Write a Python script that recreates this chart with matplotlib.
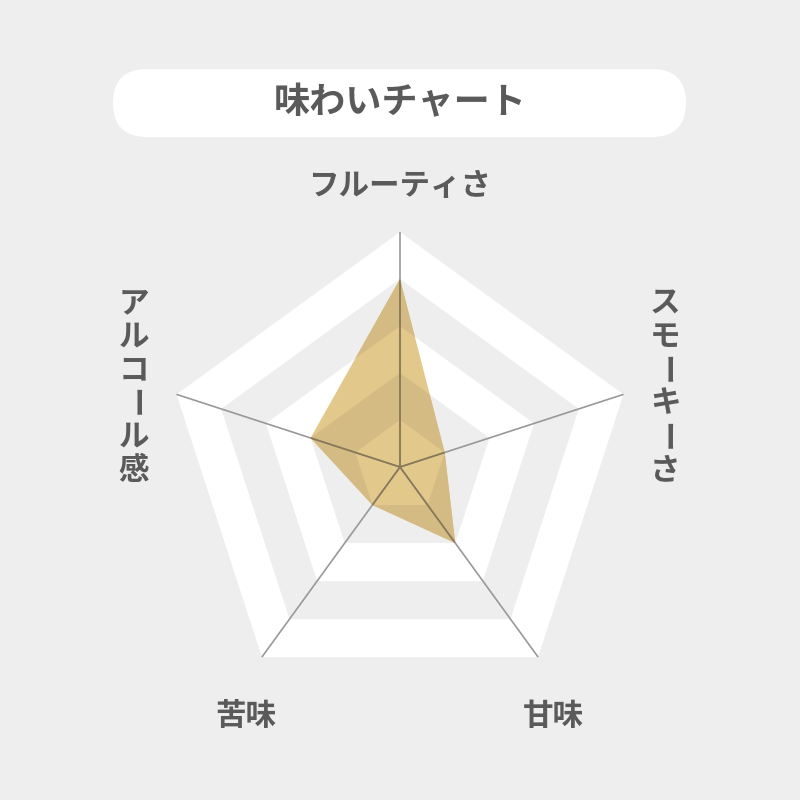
import numpy as np
import matplotlib
matplotlib.use("Agg")
import matplotlib.pyplot as plt
from matplotlib.patches import Polygon, PathPatch, FancyBboxPatch
from matplotlib.path import Path

plt.rcParams['font.family'] = ['Noto Sans CJK JP', 'DejaVu Sans']

# data
title = "味わいチャート"
categories = ["フルーティさ", "スモーキーさ", "甘味", "苦味", "アルコール感"]
values = [4, 1, 2, 1, 2]
max_level = 5

BG = "#eeeeee"
TEXT = "#5a5a5a"
AXIS = "#999999"
FILL_LIGHT = "#e3c88c"   # fill over white band
FILL_DARK = "#d4bb83"    # fill over gray band
AXIS_IN = "#8a7853"      # axis seen through the fill

cx, cy = 400, 467
unit = 47

n = len(categories)
angles = np.deg2rad(90 - 72 * np.arange(n))


def pt(r, a):
    return cx + r * unit * np.cos(a), cy - r * unit * np.sin(a)


def ring(level):
    return np.array([pt(level, a) for a in angles])


fig = plt.figure(figsize=(8, 8), dpi=100, facecolor=BG)
ax = fig.add_axes([0, 0, 1, 1])
ax.set_xlim(0, 800)
ax.set_ylim(800, 0)
ax.set_aspect('equal')
ax.axis('off')

# title pill
pill = FancyBboxPatch((113, 69), 573, 68, boxstyle="round,pad=0,rounding_size=34",
                      facecolor="white", edgecolor="none")
ax.add_patch(pill)
ax.text(400, 103, title, ha='center', va='center', fontsize=26, fontweight='bold', color=TEXT)

# background bands: white / gray alternating from outside
for lvl in range(max_level, 0, -1):
    col = "white" if (max_level - lvl) % 2 == 0 else BG
    ax.add_patch(Polygon(ring(lvl), closed=True, facecolor=col, edgecolor='none', zorder=1))

# data polygon
data_xy = np.array([pt(v, a) for v, a in zip(values, angles)])
poly = Polygon(data_xy, closed=True, facecolor=FILL_LIGHT, edgecolor='none', zorder=2)
ax.add_patch(poly)

# darker fill where it sits on the gray bands
for lvl in range(max_level - 1, 0, -2):
    outer = ring(lvl)
    inner = ring(lvl - 1)[::-1] if lvl > 1 else None
    verts = list(outer) + [outer[0]]
    codes = [Path.MOVETO] + [Path.LINETO] * (n - 1) + [Path.CLOSEPOLY]
    if inner is not None:
        verts += list(inner) + [inner[0]]
        codes += [Path.MOVETO] + [Path.LINETO] * (n - 1) + [Path.CLOSEPOLY]
    band = PathPatch(Path(verts, codes), facecolor='none', edgecolor='none')
    ax.add_patch(band)
    dark = Polygon(data_xy, closed=True, facecolor=FILL_DARK, edgecolor='none', zorder=3)
    ax.add_patch(dark)
    dark.set_clip_path(band)

# spokes
for a in angles:
    x1, y1 = pt(max_level, a)
    ax.plot([cx, x1], [cy, y1], color=AXIS, lw=1.2, zorder=4, solid_capstyle='butt')
    ln, = ax.plot([cx, x1], [cy, y1], color=AXIS_IN, lw=1.2, zorder=5, solid_capstyle='butt')
    ln.set_clip_path(poly)

# labels
ax.text(400, 186, categories[0], ha='center', va='center', fontsize=22, fontweight='bold', color=TEXT)
ax.text(553, 716, categories[2], ha='center', va='center', fontsize=22, fontweight='bold', color=TEXT)
ax.text(246, 716, categories[3], ha='center', va='center', fontsize=22, fontweight='bold', color=TEXT)


def vertical(label, x, y0, step=33.5):
    for i, ch in enumerate(label):
        rot = -90 if ch == "ー" else 0
        ax.text(x, y0 + i * step, ch, ha='center', va='center', fontsize=22,
                fontweight='bold', color=TEXT, rotation=rot)


vertical(categories[1], 665, 303)
vertical(categories[4], 134, 303)

fig.savefig("out.png", dpi=100, facecolor=BG)
